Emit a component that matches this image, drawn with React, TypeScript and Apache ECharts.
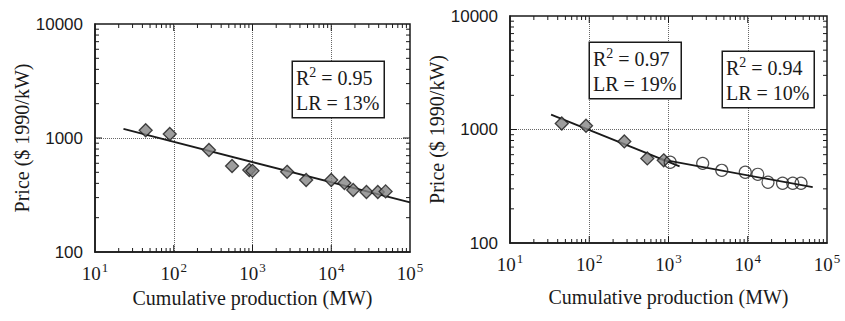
import React, { useEffect, useRef } from "react";
import * as echarts from "echarts";

// ---- data ----
const leftDiamondX = [44, 89, 280, 550, 910, 1000, 2750, 4800, 10000, 14700, 19000, 28000, 39000, 49000];
const leftDiamondY = [1170, 1085, 785, 568, 524, 515, 505, 428, 428, 403, 350, 336, 336, 340];
const leftFitX = [23, 100000];
const leftFitY = [1200, 272];

const rightDiamondX = [45, 91, 277, 540, 870];
const rightDiamondY = [1130, 1080, 785, 556, 535];
const rightCircleX = [1050, 2700, 4700, 9300, 13400, 18000, 27500, 37000, 47000];
const rightCircleY = [515, 503, 437, 420, 403, 343, 336, 336, 336];
const rightFit1X = [33, 1380];
const rightFit1Y = [1350, 473];
const rightFit2X = [750, 66000];
const rightFit2Y = [550, 310];

const xRange = [10, 100000];
const yRange = [100, 10000];
const xMajorInner = [100, 1000, 10000];
const yMajorInner = [1000];
const minorMultipliers = [2, 3, 4, 5, 6, 7, 8, 9];
const xDecades = [10, 100, 1000, 10000];
const yDecades = [100, 1000];

const leftBox = { r2: "0.95", lr: "13%" };
const rightBox1 = { r2: "0.97", lr: "19%" };
const rightBox2 = { r2: "0.94", lr: "10%" };

const xTitle = "Cumulative production (MW)";
const yTitle = "Price ($ 1990/kW)";

const SERIF = '"Liberation Serif", "DejaVu Serif", serif';
const SANS = '"Liberation Sans", "DejaVu Sans", sans-serif';
const INK = "#1a1a1a";

const zip = (a: number[], b: number[]) => a.map((v, i) => [v, b[i]]);

function tickData() {
  const items: number[][] = [];
  xDecades.forEach((d) => minorMultipliers.forEach((m) => items.push([d * m, yRange[0], 0, 0])));
  xMajorInner.forEach((v) => items.push([v, yRange[0], 0, 1]));
  yDecades.forEach((d) => minorMultipliers.forEach((m) => items.push([xRange[0], d * m, 1, 0])));
  yMajorInner.forEach((v) => items.push([xRange[0], v, 1, 1]));
  return items;
}

function tickSeries(idx: number) {
  return {
    type: "custom",
    xAxisIndex: idx,
    yAxisIndex: idx,
    silent: true,
    z: 5,
    encode: { x: 0, y: 1 },
    data: tickData(),
    renderItem: (_p: any, api: any) => {
      const kind = api.value(2);
      const len = api.value(3) ? 7 : 4;
      const st = { stroke: INK, lineWidth: 1 };
      if (kind === 0) {
        const v = api.value(0);
        const b = api.coord([v, yRange[0]]);
        const t = api.coord([v, yRange[1]]);
        return {
          type: "group",
          children: [
            { type: "line", shape: { x1: b[0], y1: b[1], x2: b[0], y2: b[1] - len }, style: st },
            { type: "line", shape: { x1: t[0], y1: t[1], x2: t[0], y2: t[1] + len }, style: st },
          ],
        };
      }
      const v = api.value(1);
      const l = api.coord([xRange[0], v]);
      const r = api.coord([xRange[1], v]);
      return {
        type: "group",
        children: [
          { type: "line", shape: { x1: l[0], y1: l[1], x2: l[0] + len, y2: l[1] }, style: st },
          { type: "line", shape: { x1: r[0], y1: r[1], x2: r[0] - len, y2: r[1] }, style: st },
        ],
      };
    },
  };
}

function xAxisDef(idx: number, nameGap: number) {
  return {
    gridIndex: idx,
    type: "log",
    logBase: 10,
    min: xRange[0],
    max: xRange[1],
    axisLine: { show: true, lineStyle: { color: INK, width: 1.5 } },
    axisTick: { show: false },
    splitLine: {
      show: true,
      showMinLine: false,
      showMaxLine: false,
      lineStyle: { type: "dotted", color: "#666", width: 1 },
    },
    axisLabel: {
      margin: 9,
      fontFamily: SERIF,
      fontSize: 19,
      color: INK,
      formatter: (v: number) => `{b|10}{s|${Math.round(Math.log10(v))}}`,
      rich: {
        b: { fontFamily: SERIF, fontSize: 19, color: INK },
        s: { fontFamily: SERIF, fontSize: 13, color: INK, padding: [0, 0, 12, 1] },
      },
    },
    name: xTitle,
    nameLocation: "middle",
    nameGap,
    nameTextStyle: { fontFamily: SERIF, fontSize: 20, color: INK },
  };
}

function yAxisDef(idx: number, nameGap: number) {
  return {
    gridIndex: idx,
    type: "log",
    logBase: 10,
    min: yRange[0],
    max: yRange[1],
    axisLine: { show: true, lineStyle: { color: INK, width: 1.5 } },
    axisTick: { show: false },
    splitLine: {
      show: true,
      showMinLine: false,
      showMaxLine: false,
      lineStyle: { type: "dotted", color: "#666", width: 1 },
    },
    axisLabel: {
      margin: 12,
      formatter: (v: number) => String(Math.round(v)),
      fontFamily: SANS,
      fontSize: 17,
      color: INK,
    },
    name: yTitle,
    nameLocation: "middle",
    nameGap,
    nameTextStyle: { fontFamily: SERIF, fontSize: 20, color: INK },
  };
}

const diamondStyle = { color: "#858585", borderColor: "#1a1a1a", borderWidth: 1.3 };
const circleStyle = { color: "rgba(255,255,255,0)", borderColor: "#222", borderWidth: 1.2 };
const fitStyle = { color: INK, width: 1.8 };

function boxText(b: { r2: string; lr: string }, x: number, y: number) {
  return {
    type: "text",
    x,
    y,
    z: 20,
    style: {
      text: `{r|R}{s|2}{r| = ${b.r2}}\n{r|LR = ${b.lr}}`,
      rich: {
        r: { fontFamily: SERIF, fontSize: 20, fill: INK, lineHeight: 25 },
        s: { fontFamily: SERIF, fontSize: 14, fill: INK, padding: [0, 0, 10, 0], lineHeight: 25 },
      },
      fontFamily: SERIF,
      fontSize: 20,
      fill: INK,
      backgroundColor: "#fff",
      borderColor: INK,
      borderWidth: 1.5,
      padding: [3, 4, 2, 3],
      align: "left",
      verticalAlign: "top",
    },
  };
}

export default function App() {
  const ref = useRef<HTMLDivElement>(null);
  useEffect(() => {
    document.body.style.margin = "0";
    if (!ref.current) return;
    const chart = echarts.init(ref.current, undefined, { renderer: "svg" });
    chart.setOption({
      animation: false,
      backgroundColor: "#fff",
      grid: [
        { left: 95, top: 24, width: 315, height: 228, show: true, borderColor: INK, borderWidth: 1.5 },
        { left: 510, top: 16, width: 317, height: 227, show: true, borderColor: INK, borderWidth: 1.5 },
      ],
      xAxis: [xAxisDef(0, 34), xAxisDef(1, 44)],
      yAxis: [yAxisDef(0, 61), yAxisDef(1, 61)],
      series: [
        {
          type: "line",
          xAxisIndex: 0,
          yAxisIndex: 0,
          data: zip(leftFitX, leftFitY),
          showSymbol: false,
          lineStyle: fitStyle,
          z: 3,
        },
        {
          type: "scatter",
          xAxisIndex: 0,
          yAxisIndex: 0,
          data: zip(leftDiamondX, leftDiamondY),
          symbol: "diamond",
          symbolSize: 13,
          itemStyle: diamondStyle,
          z: 4,
        },
        {
          type: "line",
          xAxisIndex: 1,
          yAxisIndex: 1,
          data: zip(rightFit1X, rightFit1Y),
          showSymbol: false,
          lineStyle: fitStyle,
          z: 3,
        },
        {
          type: "line",
          xAxisIndex: 1,
          yAxisIndex: 1,
          data: zip(rightFit2X, rightFit2Y),
          showSymbol: false,
          lineStyle: fitStyle,
          z: 3,
        },
        {
          type: "scatter",
          xAxisIndex: 1,
          yAxisIndex: 1,
          data: zip(rightDiamondX, rightDiamondY),
          symbol: "diamond",
          symbolSize: 13,
          itemStyle: diamondStyle,
          z: 4,
        },
        {
          type: "scatter",
          xAxisIndex: 1,
          yAxisIndex: 1,
          data: zip(rightCircleX, rightCircleY),
          symbol: "circle",
          symbolSize: 12,
          itemStyle: circleStyle,
          z: 4,
        },
        tickSeries(0),
        tickSeries(1),
      ],
      graphic: [boxText(leftBox, 293, 62), boxText(rightBox1, 590, 43), boxText(rightBox2, 723, 52)],
    });
    return () => chart.dispose();
  }, []);
  return <div ref={ref} style={{ width: 845, height: 321 }} />;
}
